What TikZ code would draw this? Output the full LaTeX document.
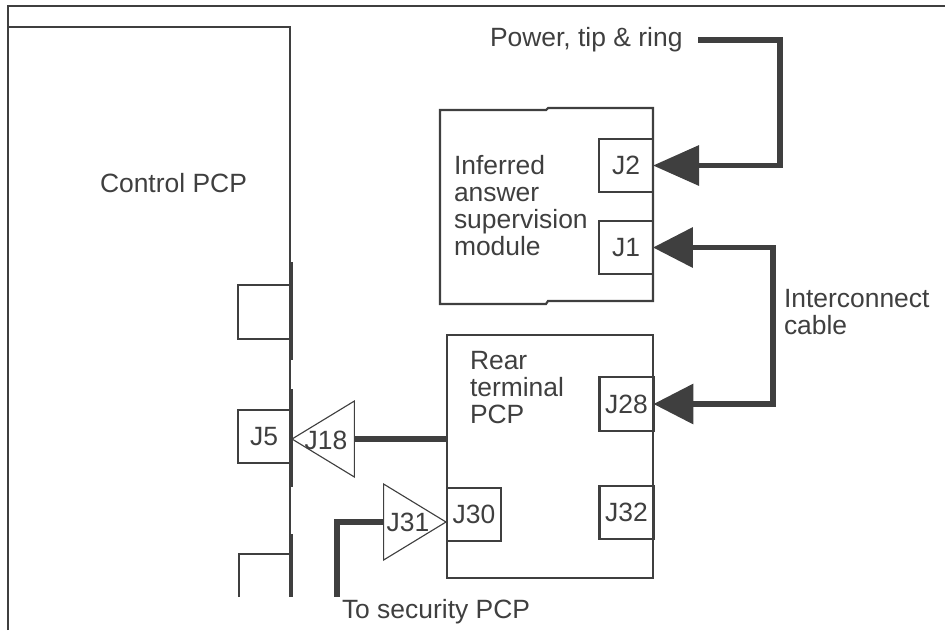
\documentclass[tikz,border=0pt]{standalone}
\usepackage{fontspec}
\setmainfont{Liberation Sans}
\usepackage{xcolor}
\usepackage{tikz}
\usetikzlibrary{arrows.meta,shapes.geometric}
\definecolor{inkgray}{HTML}{3F3F3F}

\begin{document}
\begin{tikzpicture}[x=0.0125cm, y=-0.0125cm, color=inkgray,
    every node/.style={font=\fontsize{9.4}{9.6}\selectfont, text=inkgray, inner sep=0pt, outer sep=0pt, align=left},
    edge/.style={line width=0.75pt},
    bar/.style={line width=1.5pt},
    wire/.style={line width=2pt},
    cable/.style={line width=2pt},
    jack/.style={draw, line width=0.75pt, minimum width=0.675cm, minimum height=0.67cm},
    plug/.style={draw, line width=0.4pt, isosceles triangle, isosceles triangle stretches, minimum width=0.95cm, minimum height=0.78cm}]
    \useasboundingbox (0,0) rectangle (945,630);

    % Marco y tarjeta de control
    \draw[edge] (8,630) -- (8,6) -- (945,6);
    \draw[edge] (8,27) -- (290,27) -- (290,597);
    \draw[bar] (291,262) -- (291,360);
    \draw[bar] (291,389) -- (291,487);
    \draw[bar] (291,534) -- (291,597);
    \node[anchor=base west] (control) at (100,192) {Control PCP};

    % Conectores de la tarjeta de control
    \node[jack, minimum width=0.65cm] (port) at (264,312) {};
    \node[jack, minimum width=0.65cm] (J5) at (264,436.5) {J5};
    \draw[edge] (239,597) -- (239,554) -- (290,554);

    % Modulo de supervision
    \draw[edge] (440,110) -- (546,110) -- (548,108) -- (653,108) -- (653,301) -- (548,301) -- (546,304) -- (440,304) -- cycle;
    \node[anchor=west] (module) at (454,206) {Inferred\\answer\\supervision\\module};
    \node[jack] (J2) at (626,165.5) {J2};
    \node[jack] (J1) at (626,247.5) {J1};

    % Tarjeta trasera
    \node[draw, edge, minimum width=2.575cm, minimum height=3.0375cm] (rear) at (550,456.5) {};
    \node[anchor=west] (reartext) at (470,387.5) {Rear\\terminal\\PCP};
    \node[jack] (J28) at (626.5,404) {J28};
    \node[jack] (J32) at (626.5,512.5) {J32};
    \node[jack] (J30) at (474,514.5) {J30};

    % Enchufes triangulares
    \node[plug, shape border rotate=180, anchor=apex] (J18) at (292,439) {};
    \node (J18text) at (326,440) {J18};
    \node[plug, anchor=apex] (J31) at (446,522) {};
    \node (J31text) at (408,522) {J31};

    % Cables
    \coordinate (powerend) at (698,40);
    \coordinate (powerbend) at (780,40);
    \coordinate (cablebend) at (773,320);
    \coordinate (securityend) at (337,597);
    \draw[wire] (J18.east) -- (J18.east -| rear.west);
    \draw[wire] (J31.west) -| (securityend);
    \draw[cable, -{Triangle[length=16.4pt,width=14pt]}] (powerend) -- (powerbend) |- (J2.east);
    \draw[cable, {Triangle[length=14.2pt,width=14pt]}-{Triangle[length=14.2pt,width=14pt]}] (J1.east) -| (cablebend) |- (J28.east);

    % Rotulos
    \node[anchor=base west] (power) at (490,46) {Power, tip \& ring};
    \node[anchor=west] (cablename) at (784,312) {Interconnect\\cable};
    \node[anchor=base west] (security) at (342,618) {To security PCP};
\end{tikzpicture}
\end{document}
